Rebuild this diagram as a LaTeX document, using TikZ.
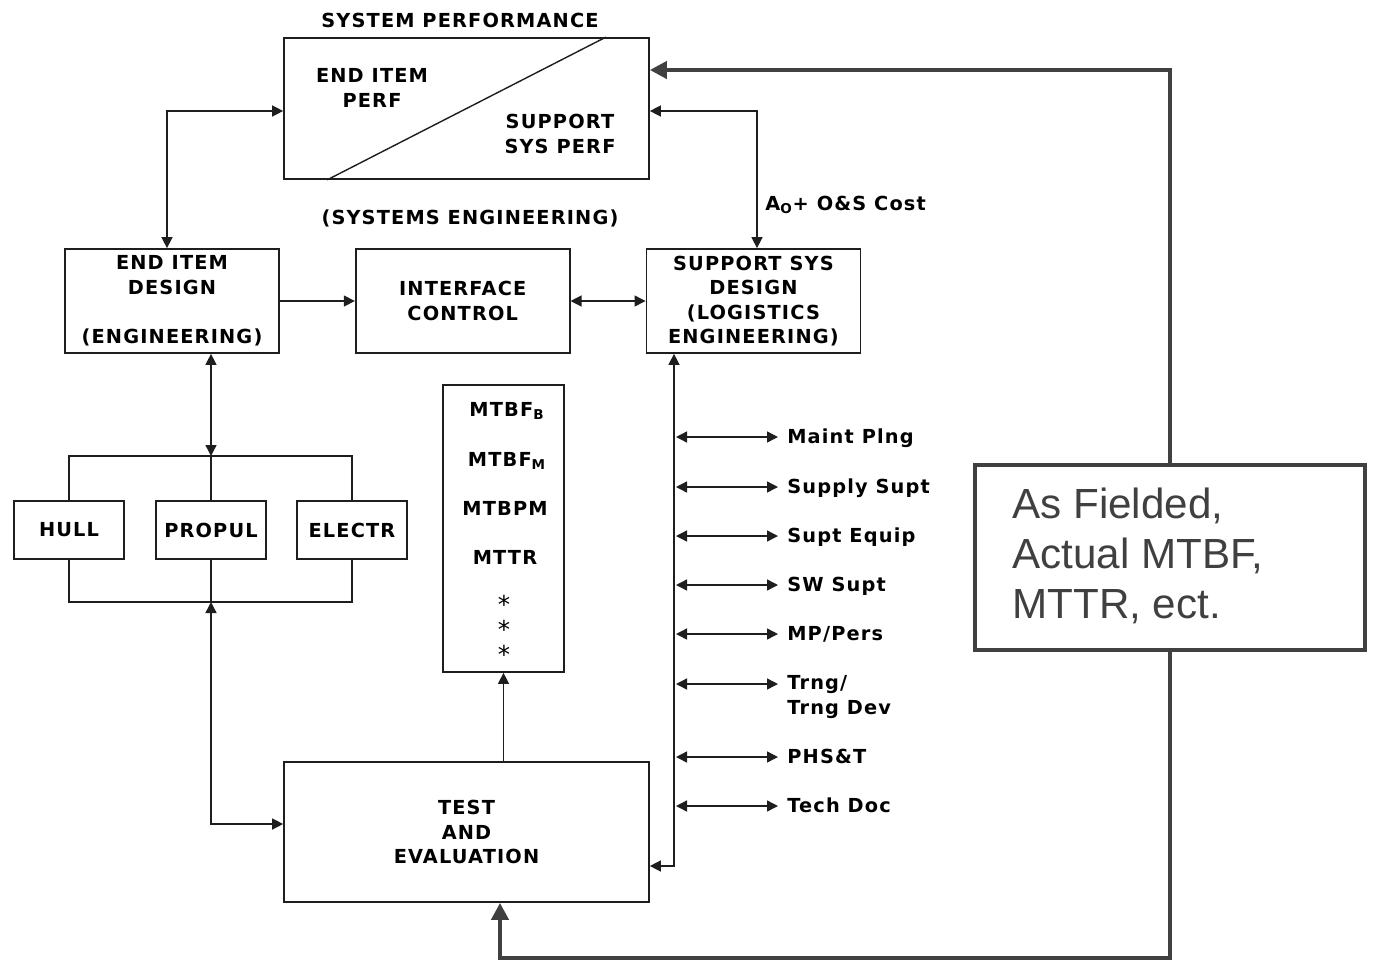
\documentclass[tikz,border=0pt]{standalone}
\usepackage{fontspec}
\setmainfont{DejaVu Sans}[LetterSpace=6]
\newfontfamily\fieldfont{Liberation Sans}
\usetikzlibrary{arrows.meta,positioning,calc}
\definecolor{boxgray}{RGB}{30,30,30}
\definecolor{fbgray}{RGB}{64,64,64}
\tikzset{
  blk/.style={draw=boxgray, line width=1pt, minimum width=4.28cm, minimum height=2.08cm, inner sep=0pt, align=center},
  sub/.style={blk, minimum width=2.2cm, minimum height=1.16cm},
  lbl/.style={inner sep=0pt, align=center},
  lnk/.style={draw=boxgray, line width=0.8pt, >={Triangle[length=0.22cm,width=0.22cm]}},
  fb/.style={draw=fbgray, line width=2.3pt, >={Triangle[length=0.34cm,width=0.34cm]}},
}

\begin{document}
\begin{tikzpicture}[x=0.02cm, y=-0.02cm, font=\bfseries\fontsize{11}{14}\selectfont]
  \useasboundingbox (0,0) rectangle (1373,961);

  % system performance
  \node[lbl] (ttl) at (460,20) {SYSTEM PERFORMANCE};
  \node[blk, minimum width=7.3cm, minimum height=2.82cm] (perf) at (466.5,108.5) {};
  \draw[boxgray, line width=0.8pt] ($(perf.south west)+(44,0)$) -- ($(perf.north east)+(-44,0)$);
  \node[lbl] (eip) at (372,88) {END ITEM\\PERF};
  \node[lbl] (ssp) at (560,134) {SUPPORT\\SYS PERF};

  \node[lbl] (seng) at (470,218) {(SYSTEMS ENGINEERING)};

  % design row
  \node[blk] (eid) at (172,301) {END ITEM\\DESIGN\\[14pt](ENGINEERING)};
  \node[blk, right=1.5cm of eid] (ifc) {INTERFACE\\CONTROL};
  \node[blk, right=1.5cm of ifc] (ssd) {SUPPORT SYS\\DESIGN\\(LOGISTICS\\ENGINEERING)};
  \node[lbl, anchor=west] (cost) at (765,205) {A\textsubscript{O}+ O\&S Cost};

  % subsystems
  \node[sub] (hull) at (69,530) {HULL};
  \node[sub] (propul) at (211,530) {PROPUL};
  \node[sub] (electr) at (352,530) {ELECTR};

  % measures
  \node[blk, minimum width=2.42cm, minimum height=5.74cm] (mtbf) at (503.5,528.5) {};
  \node[lbl] (mb) at (507,411) {MTBF\textsubscript{B}};
  \node[lbl] (mm) at (507,461) {MTBF\textsubscript{M}};
  \node[lbl] (mp) at (505,508) {MTBPM};
  \node[lbl] (mr) at (505,557) {MTTR};
  \foreach \yy [count=\i] in {604,629,654}
    \node[lbl, font=\normalfont\fontsize{14}{14}\selectfont] (st\i) at (504,\yy) {*};

  \node[blk, minimum width=7.3cm, minimum height=2.8cm] (test) at (466.5,832) {TEST\\AND\\EVALUATION};

  % field data
  \node[draw=fbgray, line width=2.3pt, minimum width=7.8cm, minimum height=3.7cm] (field) at (1170,557.5) {};
  \node[anchor=west, align=left, text=fbgray, inner sep=0pt, font=\fieldfont\fontsize{24}{28.5}\selectfont] (ftxt) at (1012,556) {As Fielded,\\Actual MTBF,\\MTTR, ect.};

  % connectors
  \coordinate (lk) at (167,111);
  \coordinate (rk) at (757,111);
  \draw[lnk, <->] (eid.north -| lk) |- (perf.west |- lk);
  \draw[lnk, <->] (perf.east |- rk) -| (ssd.north -| rk);
  \draw[lnk, ->] (eid.east) -- (ifc.west);
  \draw[lnk, <->] (ifc.east) -- (ssd.west);

  \coordinate (tb) at (211,456);
  \coordinate (bb) at (211,602);
  \draw[lnk, <->] (eid.south -| tb) -- (tb);
  \draw[lnk] (hull.north) |- (electr.north |- tb) -- (electr.north);
  \draw[lnk] (propul.north) -- (tb);
  \draw[lnk] (hull.south) |- (electr.south |- bb) -- (electr.south);
  \draw[lnk] (propul.south) -- (bb);
  \draw[lnk, <->] (bb) |- ([yshift=0.16cm]test.west);
  \draw[lnk, ->] (mtbf.south |- test.north) -- (mtbf.south);

  \coordinate (sp) at (674,0);
  \draw[lnk, <->] (ssd.south -| sp) |- ([yshift=-0.68cm]test.east);
  \foreach \yy/\ly/\txt [count=\i] in {437/443/Maint Plng, 487/493/Supply Supt, 536/542/Supt Equip, 585/591/SW Supt, 634/640/{MP/Pers}, 684/714.5/{Trng/\\Trng Dev}, 757/763/PHS\&T, 806/812/Tech Doc} {
    \coordinate (br\i) at (676,\yy);
    \coordinate (be\i) at (778,\yy);
    \node[lbl, align=left, anchor=base west] (it\i) at (787,\ly) {\txt};
    \draw[lnk, <->] (br\i) -- (be\i);
  }

  % feedback loop
  \coordinate (fu) at (1170,70);
  \coordinate (fd) at (1170,958);
  \coordinate (fx) at (500,958);
  \draw[fb, ->] (field.north) -- (fu) -- (perf.east |- fu);
  \draw[fb, ->] (field.south) -- (fd) -- (fx) -- (test.south -| fx);
\end{tikzpicture}
\end{document}
